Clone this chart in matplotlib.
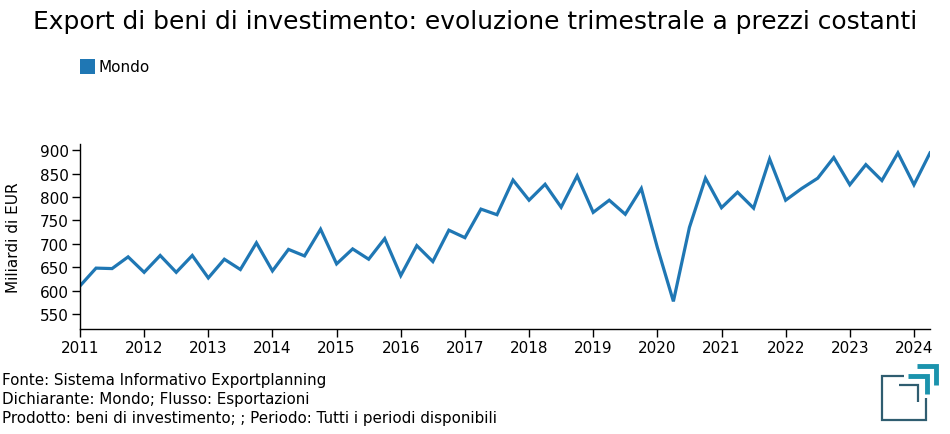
import matplotlib
matplotlib.use("Agg")
import matplotlib.pyplot as plt
from matplotlib.lines import Line2D
from matplotlib.patches import Rectangle

# ---- data ----
years_start = 2011
quarters = [years_start + i * 0.25 for i in range(54)]
values = [610, 648, 647, 672, 639, 675, 639, 675, 627, 667, 645, 702,
          642, 688, 674, 731, 657, 689, 667, 711, 632, 696, 662, 729,
          713, 774, 762, 836, 793, 827, 778, 845, 767, 793, 763, 818,
          692, 577, 735, 840, 777, 810, 776, 881, 793, 818, 840, 884,
          826, 869, 835, 894, 826, 894]
year_ticks = list(range(2011, 2025))
y_ticks = [550, 600, 650, 700, 750, 800, 850, 900]
series_name = "Mondo"
title = "Export di beni di investimento: evoluzione trimestrale a prezzi costanti"
ylabel = "Miliardi di EUR"
footer = ["Fonte: Sistema Informativo Exportplanning",
          "Dichiarante: Mondo; Flusso: Esportazioni",
          "Prodotto: beni di investimento; ; Periodo: Tutti i periodi disponibili"]

color = "#1f77b4"
W, H = 950, 435
fig = plt.figure(figsize=(W / 100, H / 100), dpi=100)
ax = fig.add_axes([80 / W, 1 - 330 / H, 850 / W, 185 / H])
ax.plot(quarters, values, color=color, lw=2.3, solid_joinstyle="miter")
ax.set_xlim(2011, 2024.25)
ax.set_ylim(518, 913)
ax.set_xticks(year_ticks)
ax.set_xticklabels([str(y) for y in year_ticks])
ax.set_yticks(y_ticks)
for s in ["top", "right"]:
    ax.spines[s].set_visible(False)
for s in ["left", "bottom"]:
    ax.spines[s].set_linewidth(1)
ax.tick_params(axis="both", direction="out", length=6, width=1, labelsize=11, pad=2)
ax.set_ylabel(ylabel, fontsize=11)
ax.yaxis.set_label_coords(-59 / 850, 0.5)

fig.text(475 / W, 1 - 22 / H, title, ha="center", va="center", fontsize=17.9)

# legend
fig.patches.append(Rectangle((80 / W, 1 - 75 / H), 15 / W, 15 / H, transform=fig.transFigure,
                             facecolor=color, edgecolor="none"))
fig.text(98 / W, 1 - 68 / H, series_name, ha="left", va="center", fontsize=11)

for i, t in enumerate(footer):
    fig.text(2 / W, 1 - (380 + i * 19.5) / H, t, ha="left", va="center", fontsize=10.9)

# logo
def fl(xs, ys, c, lw):
    fig.add_artist(Line2D([x / W for x in xs], [1 - y / H for y in ys], color=c, lw=lw,
                          transform=fig.transFigure, solid_capstyle="butt", solid_joinstyle="miter"))

dark = "#2f5d70"
teal = "#1b93ad"
ox, oy = 860, 355
def p(v):
    return v / 3
fl([ox + p(132), ox + p(67), ox + p(67), ox + p(197), ox + p(197)],
   [oy + p(67), oy + p(67), oy + p(197), oy + p(197), oy + p(132)], dark, 1.6)
fl([ox + p(118), ox + p(175), ox + p(175)], [oy + p(92), oy + p(92), oy + p(145)], dark, 1.6)
fl([ox + p(145), ox + p(201), ox + p(201)], [oy + p(67), oy + p(67), oy + p(120)], teal, 3.5)
fl([ox + p(172), ox + p(229), ox + p(229)], [oy + p(37), oy + p(37), oy + p(92)], teal, 3.5)

fig.savefig("out.png", dpi=100)
